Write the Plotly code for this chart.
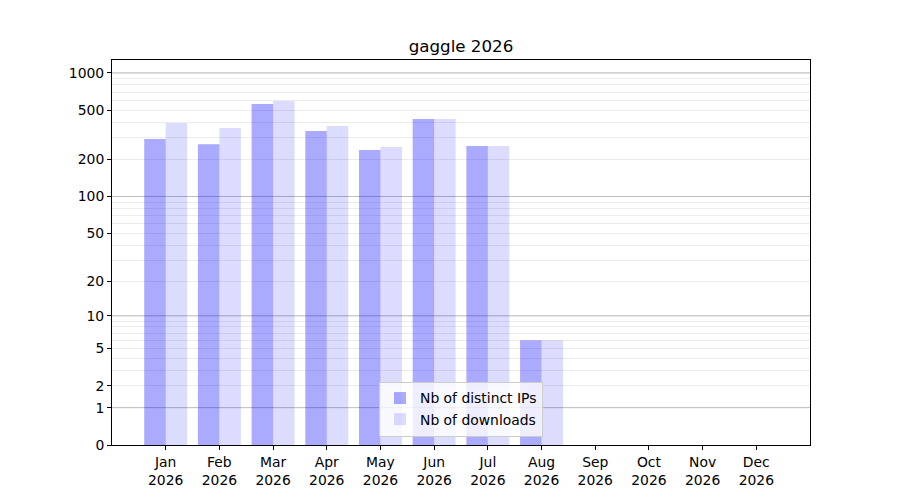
import plotly.graph_objects as go

months = ["Jan", "Feb", "Mar", "Apr", "May", "Jun", "Jul", "Aug", "Sep", "Oct", "Nov", "Dec"]
year = "2026"
distinct_ips = [293, 266, 561, 340, 238, 425, 257, 6, 0, 0, 0, 0]
downloads = [394, 359, 594, 373, 252, 425, 257, 6, 0, 0, 0, 0]

# y axis is log10(1 + v): plotted on a log axis with values shifted by one
ytick_values = [0, 1, 2, 5, 10, 20, 50, 100, 200, 500, 1000]
major_grid = [1, 10, 100, 1000]
minor_grid = [3, 4, 6, 7, 8, 9, 30, 40, 60, 70, 80, 90, 300, 400, 600, 700, 800, 900]

x_labels = [m + "<br>" + year for m in months]
xpos = list(range(len(months)))
xrange_ = [-1, 12]

fig = go.Figure()
fig.add_trace(go.Bar(
    x=xpos, y=[v + 1 for v in distinct_ips], name="Nb of distinct IPs",
    marker=dict(color="rgb(0,0,255)", line=dict(width=0)), opacity=0.33,
    offset=-0.4, width=0.4,
))
fig.add_trace(go.Bar(
    x=xpos, y=[v + 1 for v in downloads], name="Nb of downloads",
    marker=dict(color="rgb(0,0,255)", line=dict(width=0)), opacity=0.135,
    offset=0.0, width=0.4,
))

# darker grid lines at the decades (between gridlines and traces)
for v in major_grid:
    fig.add_shape(type="line", xref="x", x0=xrange_[0], x1=xrange_[1], yref="y", y0=v + 1, y1=v + 1,
                  line=dict(color="rgb(190,190,190)", width=1), layer="between")

font = dict(family="DejaVu Sans", size=13.9, color="black")

# the page body adds an 8px offset, so margins are shifted to compensate
fig.update_layout(
    width=900, height=500,
    margin=dict(l=104, r=98, t=52, b=63),
    paper_bgcolor="white", plot_bgcolor="white",
    font=font,
    title=dict(text="gaggle 2026", x=0.5, xref="paper", xanchor="center",
               y=1 - 38 / 500, yanchor="middle", font=dict(family="DejaVu Sans", size=16.7)),
    barmode="overlay",
    showlegend=True,
    legend=dict(x=0.5, y=0.022, xanchor="center", yanchor="bottom",
                bgcolor="rgba(255,255,255,0.8)", bordercolor="rgb(204,204,204)", borderwidth=1,
                font=font, traceorder="normal", tracegroupgap=0),
    xaxis=dict(
        range=xrange_, tickmode="array", tickvals=xpos, ticktext=x_labels,
        ticks="outside", ticklen=4, tickcolor="black", showgrid=False, zeroline=False,
        showline=True, linecolor="black", linewidth=1, mirror=True,
    ),
    yaxis=dict(
        type="log", range=[0, 3.105],
        tickmode="array", tickvals=[v + 1 for v in ytick_values], ticktext=[str(v) for v in ytick_values],
        ticks="outside", ticklen=4, tickcolor="black",
        showgrid=True, gridcolor="rgb(236,236,236)", gridwidth=1, zeroline=False,
        showline=True, linecolor="black", linewidth=1, mirror=True,
        minor=dict(tickmode="array", tickvals=[v + 1 for v in minor_grid], ticks="",
                   showgrid=True, gridcolor="rgb(236,236,236)", gridwidth=1),
    ),
)

fig.write_html("out.html")
